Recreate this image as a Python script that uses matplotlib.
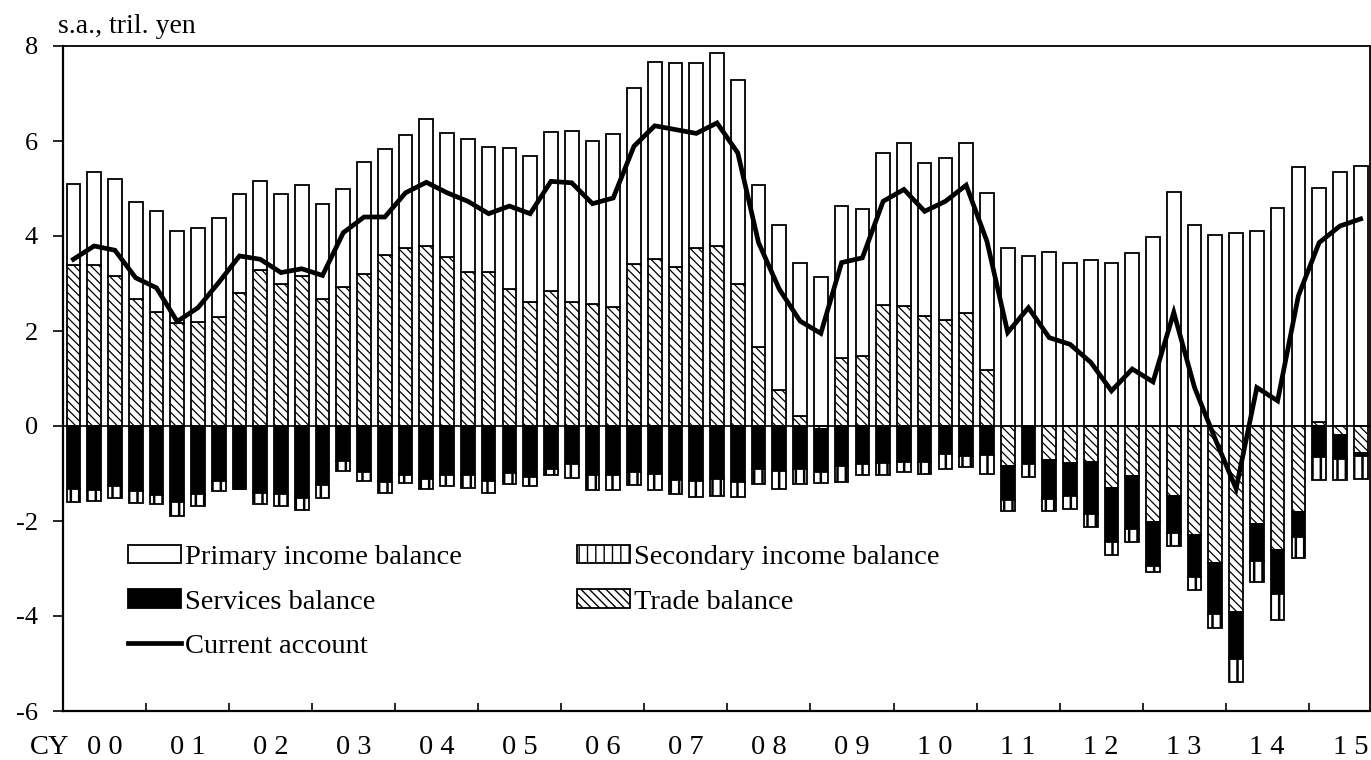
import matplotlib
matplotlib.use("Agg")
import matplotlib.pyplot as plt
import matplotlib.transforms as mtransforms
from matplotlib.patches import Patch
from matplotlib.lines import Line2D
import numpy as np

plt.rcParams['font.family'] = ['Liberation Serif', 'DejaVu Serif']
plt.rcParams['axes.unicode_minus'] = False
plt.rcParams['hatch.linewidth'] = 1.0

# ---------------- data (quarterly, 2000Q1 - 2015Q3), trillion yen, s.a. ----------------
years = ['00', '01', '02', '03', '04', '05', '06', '07', '08', '09',
         '10', '11', '12', '13', '14', '15']

trade = [3.40, 3.38, 3.15, 2.68, 2.39, 2.16, 2.19, 2.29, 2.79, 3.28,
         2.98, 3.16, 2.67, 2.93, 3.21, 3.60, 3.75, 3.80, 3.56, 3.25,
         3.25, 2.89, 2.62, 2.84, 2.62, 2.56, 2.51, 3.41, 3.52, 3.35,
         3.74, 3.79, 3.00, 1.67, 0.76, 0.22, -0.06, 1.43, 1.48, 2.54,
         2.53, 2.32, 2.23, 2.37, 1.18, -0.85, -0.03, -0.71, -0.77, -0.76,
         -1.30, -1.06, -2.02, -1.47, -2.30, -2.89, -3.91, -2.06, -2.62, -1.81,
         0.09, -0.18, -0.56]

services = [-1.32, -1.34, -1.27, -1.36, -1.46, -1.60, -1.44, -1.16, -1.32, -1.41,
            -1.43, -1.52, -1.25, -0.73, -0.96, -1.18, -1.04, -1.12, -1.03, -1.04,
            -1.15, -0.99, -1.08, -0.91, -0.80, -1.03, -1.04, -0.96, -1.01, -1.13,
            -1.15, -1.12, -1.18, -0.90, -0.94, -0.90, -0.91, -0.85, -0.80, -0.78,
            -0.76, -0.76, -0.59, -0.64, -0.62, -0.70, -0.77, -0.83, -0.70, -1.09,
            -1.14, -1.10, -0.93, -0.78, -0.88, -1.06, -0.99, -0.78, -0.91, -0.53,
            -0.66, -0.52, -0.07]

primary = [1.70, 1.96, 2.04, 2.03, 2.14, 1.94, 1.98, 2.09, 2.10, 1.87,
           1.91, 1.92, 2.01, 2.06, 2.35, 2.24, 2.38, 2.66, 2.60, 2.79,
           2.62, 2.97, 3.07, 3.36, 3.60, 3.43, 3.64, 3.71, 4.15, 4.29,
           3.90, 4.07, 4.29, 3.40, 3.48, 3.22, 3.14, 3.20, 3.09, 3.20,
           3.43, 3.22, 3.41, 3.58, 3.73, 3.75, 3.58, 3.66, 3.44, 3.49,
           3.44, 3.65, 3.98, 4.92, 4.23, 4.03, 4.06, 4.10, 4.59, 5.45,
           4.92, 5.35, 5.48]

secondary = [-0.28, -0.23, -0.24, -0.26, -0.19, -0.30, -0.25, -0.21, -0.01, -0.24,
             -0.26, -0.24, -0.26, -0.21, -0.19, -0.23, -0.16, -0.20, -0.24, -0.26,
             -0.25, -0.24, -0.18, -0.12, -0.29, -0.31, -0.30, -0.29, -0.33, -0.30,
             -0.35, -0.35, -0.32, -0.32, -0.38, -0.32, -0.23, -0.33, -0.23, -0.25,
             -0.21, -0.25, -0.31, -0.23, -0.39, -0.24, -0.28, -0.24, -0.27, -0.27,
             -0.28, -0.28, -0.12, -0.27, -0.27, -0.31, -0.49, -0.45, -0.56, -0.44,
             -0.47, -0.43, -0.48]

current_account = [3.51, 3.79, 3.70, 3.12, 2.91, 2.20, 2.49, 3.02, 3.58, 3.51,
                   3.23, 3.31, 3.17, 4.07, 4.40, 4.40, 4.91, 5.13, 4.91, 4.73,
                   4.47, 4.63, 4.47, 5.15, 5.12, 4.68, 4.80, 5.89, 6.32, 6.24,
                   6.16, 6.38, 5.75, 3.86, 2.88, 2.21, 1.95, 3.44, 3.54, 4.73,
                   4.98, 4.52, 4.73, 5.07, 3.89, 1.97, 2.49, 1.86, 1.72, 1.34,
                   0.74, 1.20, 0.93, 2.39, 0.81, -0.28, -1.32, 0.81, 0.53, 2.74,
                   3.86, 4.21, 4.36]

labels_legend = ['Primary income balance', 'Services balance', 'Current account',
                 'Secondary income balance', 'Trade balance']

# ---------------- figure ----------------
W_PX, H_PX = 1371, 760
fig = plt.figure(figsize=(W_PX / 100, H_PX / 100), dpi=100)
ax = fig.add_axes([63 / W_PX, 1 - 711 / H_PX, 1307 / W_PX, 665 / H_PX])

tr = np.array(trade)
sv = np.array(services)
pr = np.array(primary)
sc = np.array(secondary)
ca = np.array(current_account)
x = np.arange(len(tr))

width = 0.66
elw = 1.3

pos_trade = np.where(tr > 0, tr, 0.0)
neg_trade = np.where(tr < 0, tr, 0.0)


def set_hlw(container, lw):
    for p in container:
        try:
            p.set_hatch_linewidth(lw)
        except AttributeError:
            pass


with plt.rc_context({'hatch.linewidth': 0.9}):
    b_trade_p = ax.bar(x, pos_trade, width, bottom=0, color='white', edgecolor='black',
                       hatch='\\\\\\\\', linewidth=elw, zorder=2)
    b_trade_n = ax.bar(x, neg_trade, width, bottom=0, color='white', edgecolor='black',
                       hatch='\\\\\\\\', linewidth=elw, zorder=2)
set_hlw(b_trade_p, 0.9)
set_hlw(b_trade_n, 0.9)

b_prim = ax.bar(x, pr, width, bottom=pos_trade, color='white', edgecolor='black',
                linewidth=elw, zorder=2)
b_serv = ax.bar(x, sv, width, bottom=neg_trade, color='black', edgecolor='black',
                linewidth=elw, zorder=2)
with plt.rc_context({'hatch.linewidth': 1.8}):
    b_sec = ax.bar(x, sc, width, bottom=neg_trade + sv, color='white', edgecolor='black',
                   hatch='||', linewidth=elw, zorder=2)
set_hlw(b_sec, 1.8)

ln, = ax.plot(x, ca, color='black', linewidth=3.4, zorder=4, solid_joinstyle='miter')

ax.axhline(0, color='black', linewidth=1.2, zorder=3)

# ---------------- axes formatting ----------------
ax.set_xlim(-0.5, 62.45)
ax.set_ylim(-6, 8)
yt = np.arange(-6, 9, 2)
ax.set_yticks(yt)
ax.set_yticklabels([str(int(v)) for v in yt])
ax.tick_params(axis='y', direction='out', length=7, width=1.2, pad=11, labelsize=19)

n_years = len(years)
ax.set_xticks(np.arange(3.5, 4 * (n_years - 1), 4))
ax.set_xticklabels([])
ax.set_xticks(np.arange(1.5, 4 * n_years, 4), minor=True)
ax.set_xticklabels([' '.join(y) for y in years], minor=True)
ax.tick_params(axis='x', which='major', direction='in', length=6, width=1.2)
ax.tick_params(axis='x', which='minor', length=0, pad=17, labelsize=20.5)

for s in ax.spines.values():
    s.set_linewidth(1.3)
ax.spines['left'].set_linewidth(1.6)
ax.spines['bottom'].set_linewidth(1.6)

trans = mtransforms.blended_transform_factory(ax.transData, ax.transAxes)
ax.text(-1.15, -17 * 100 / 72 / 665, 'CY', transform=trans, ha='center', va='top',
        fontsize=20.5)

ax.text(-0.004, 1 + 13 / 665, 's.a., tril. yen', transform=ax.transAxes, ha='left',
        va='baseline', fontsize=20)

# ---------------- legend ----------------
h_prim = Patch(facecolor='white', edgecolor='black', linewidth=elw)
h_serv = Patch(facecolor='black', edgecolor='black', linewidth=elw)
h_ca = Line2D([], [], color='black', linewidth=3.4)
with plt.rc_context({'hatch.linewidth': 1.8}):
    h_sec = Patch(facecolor='white', edgecolor='black', hatch='||', linewidth=elw)
with plt.rc_context({'hatch.linewidth': 0.9}):
    h_trd = Patch(facecolor='white', edgecolor='black', hatch='\\\\\\\\', linewidth=elw)
for h, lw in ((h_sec, 1.8), (h_trd, 0.9)):
    try:
        h.set_hatch_linewidth(lw)
    except AttributeError:
        pass

common = dict(frameon=False, fontsize=20.5, handlelength=1.85, handleheight=0.6,
              handletextpad=0.15, labelspacing=0.68, borderpad=0, borderaxespad=0,
              loc='upper left')
leg_top = (711 - 545) / 665
leg1 = ax.legend([h_prim, h_serv, h_ca], labels_legend[:3],
                 bbox_to_anchor=((128 - 63) / 1307, leg_top), **common)
ax.add_artist(leg1)
leg2 = ax.legend([h_sec, h_trd], labels_legend[3:],
                 bbox_to_anchor=((577 - 63) / 1307, leg_top), **common)

fig.savefig('out.png', dpi=100)
